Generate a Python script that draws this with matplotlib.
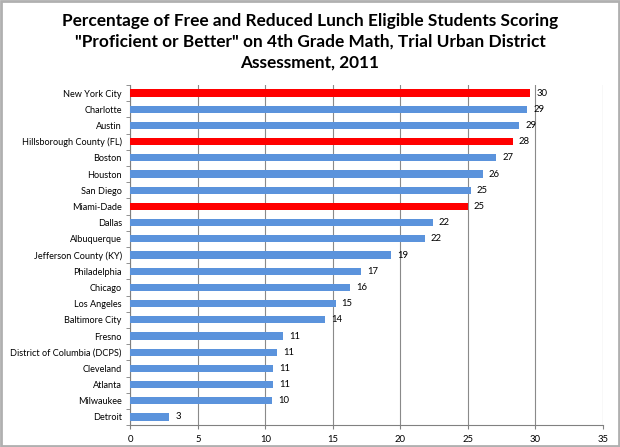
import numpy as np
import matplotlib.pyplot as plt

cities = ['New York City', 'Charlotte', 'Austin', 'Hillsborough County (FL)', 'Boston',
          'Houston', 'San Diego', 'Miami-Dade', 'Dallas', 'Albuquerque',
          'Jefferson County (KY)', 'Philadelphia', 'Chicago', 'Los Angeles',
          'Baltimore City', 'Fresno', 'District of Columbia (DCPS)', 'Cleveland',
          'Atlanta', 'Milwaukee', 'Detroit']
values = [29.6, 29.4, 28.8, 28.3, 27.1, 26.1, 25.2, 25.0, 22.4, 21.8,
          19.3, 17.1, 16.3, 15.2, 14.4, 11.3, 10.9, 10.6, 10.6, 10.5, 2.9]
labels = ['30', '29', '29', '28', '27', '26', '25', '25', '22', '22',
          '19', '17', '16', '15', '14', '11', '11', '11', '11', '10', '3']
highlight = ['New York City', 'Hillsborough County (FL)', 'Miami-Dade']
xticks = [0, 5, 10, 15, 20, 25, 30, 35]

plt.rcParams['font.family'] = ['Lato', 'DejaVu Sans']

fig = plt.figure(figsize=(6.2, 4.47), dpi=100)
fig.patches.append(plt.Rectangle((0.002, 0.003), 0.996, 0.994, transform=fig.transFigure,
                                 fill=False, edgecolor='#b0b0b0', linewidth=2))
ax = fig.add_axes([0.21, 0.049, 0.7626, 0.761])

y = np.arange(len(cities))
colors = ['#ff0000' if c in highlight else '#5b93dc' for c in cities]
ax.barh(y, values, height=0.45, color=colors, zorder=3)
for yi, v, lab in zip(y, values, labels):
    ax.text(v + 0.45, yi, lab, va='center', ha='left', fontsize=6.8)

ax.set_yticks(y)
ax.set_yticklabels(cities, fontsize=6.6)
ax.set_yticks(np.arange(-0.5, len(cities)), minor=True)
ax.tick_params(axis='y', which='major', length=0, pad=6)
ax.tick_params(axis='y', which='minor', length=3, color='#808080')
ax.set_ylim(len(cities) - 0.5, -0.5)

ax.set_xlim(0, 35)
ax.set_xticks(xticks)
ax.tick_params(axis='x', labelsize=6.8, length=3, color='#808080', pad=4)
ax.grid(axis='x', color='#8a8a8a', linewidth=0.8, zorder=0)

for s in ['top', 'right']:
    ax.spines[s].set_visible(False)
for s in ['left', 'bottom']:
    ax.spines[s].set_color('#808080')
    ax.spines[s].set_linewidth(0.8)

fig.suptitle('Percentage of Free and Reduced Lunch Eligible Students Scoring\n'
             '"Proficient or Better" on 4th Grade Math, Trial Urban District\n'
             'Assessment, 2011', y=0.97, fontsize=12.4, fontweight='bold', linespacing=1.35)

fig.savefig('out.png', dpi=100)
